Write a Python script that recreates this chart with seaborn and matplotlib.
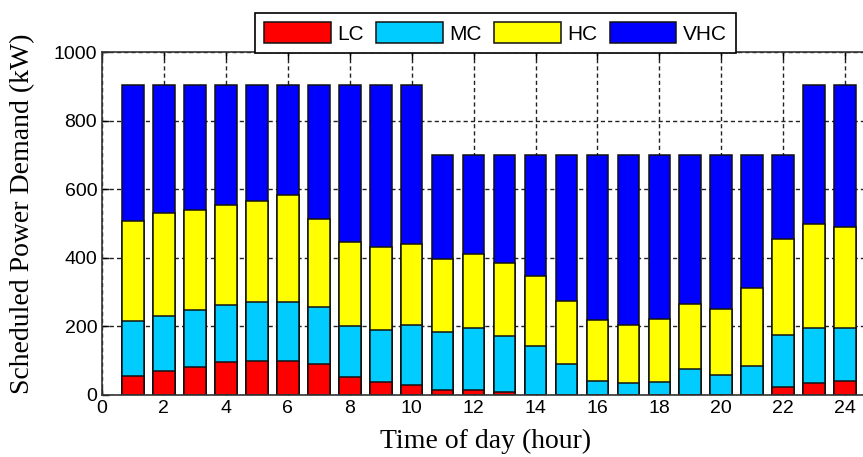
import numpy as np
import pandas as pd
import matplotlib
matplotlib.use("Agg")
import matplotlib.pyplot as plt
from matplotlib.patches import Patch
import seaborn as sns

# Hourly scheduled demand per customer class (kW)
hours = list(range(1, 25))
lc = [56, 71, 81, 95, 99, 99, 91, 52, 37, 28, 14, 15, 10, 0, 0, 0, 0, 0, 0, 0, 0, 24, 34, 42]
mc = [161, 161, 166, 167, 172, 172, 166, 148, 152, 175, 171, 181, 161, 143, 91, 42, 34, 38, 76, 57, 86, 152, 161, 153]
hc = [291, 299, 294, 294, 294, 314, 256, 247, 243, 239, 213, 217, 213, 203, 184, 176, 169, 185, 190, 195, 227, 280, 304, 295]
vhc = [398, 375, 365, 350, 341, 321, 393, 459, 474, 464, 302, 287, 316, 354, 425, 482, 497, 477, 434, 448, 387, 244, 407, 416]

classes = ["LC", "MC", "HC", "VHC"]
colors = ["#FF0000", "#00CCFF", "#FFFF00", "#0000FF"]

df = pd.DataFrame({"hour": hours, "LC": lc, "MC": mc, "HC": hc, "VHC": vhc})
# cumulative tops of each stacked segment
df["top_LC"] = df["LC"]
df["top_MC"] = df["top_LC"] + df["MC"]
df["top_HC"] = df["top_MC"] + df["HC"]
df["top_VHC"] = df["top_HC"] + df["VHC"]

fig = plt.figure(figsize=(8.63, 4.57), dpi=100)
ax = fig.add_axes([0.1182, 0.1357, 0.897, 0.7495])
ax.set_axisbelow(True)

# draw from the tallest cumulative layer down so each segment shows
for name, col in zip(classes[::-1], colors[::-1]):
    sns.barplot(data=df, x="hour", y="top_" + name, native_scale=True,
                width=0.7, color=col, saturation=1, edgecolor="#111111",
                linewidth=1.1, ax=ax, errorbar=None)

ax.set_xlim(0, 25)
ax.set_ylim(0, 1000)
ax.set_xticks(range(0, 25, 2))
ax.set_yticks(range(0, 1001, 200))
ax.grid(True, color="#222222", linestyle=(0, (3, 2.2)), linewidth=1.0)
ax.tick_params(direction="in", top=True, right=True, length=5, width=1,
               labelsize=14, colors="black")
for lab in ax.get_xticklabels() + ax.get_yticklabels():
    lab.set_fontfamily("Liberation Sans")
for sp in ax.spines.values():
    sp.set_linewidth(1.2)
    sp.set_color("#333333")

ax.set_xlabel("Time of day (hour)", fontfamily="Liberation Serif", fontsize=20)
ax.set_ylabel("Scheduled Power Demand (kW)", fontfamily="Liberation Serif", fontsize=20)
ax.xaxis.set_label_coords(0.4955, -0.098)
ax.yaxis.set_label_coords(-0.086, 0.53)

handles = [Patch(facecolor=c, edgecolor="#111111", linewidth=1.1, label=n)
           for n, c in zip(classes, colors)]
leg = fig.legend(handles=handles, loc="lower center", ncol=4,
                 bbox_to_anchor=(0.574, 0.884), frameon=True, fancybox=False,
                 edgecolor="black", prop={"family": "Liberation Sans", "size": 15},
                 handlelength=3.2, handleheight=1.15, handletextpad=0.3,
                 columnspacing=0.6, borderpad=0.45, borderaxespad=0)
leg.get_frame().set_linewidth(1.2)
leg.get_frame().set_alpha(1)

fig.savefig("out.png", dpi=100)
